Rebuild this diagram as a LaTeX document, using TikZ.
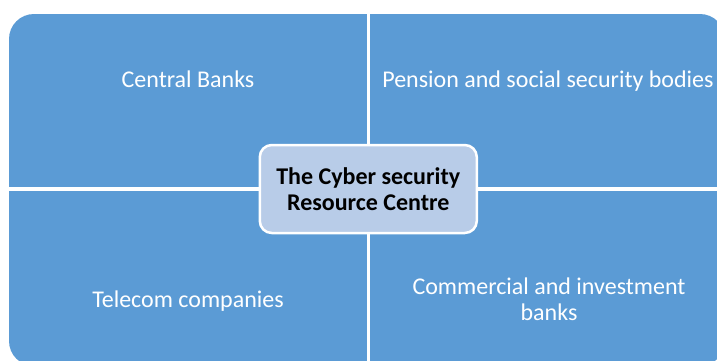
\documentclass[tikz,border=0pt]{standalone}
\usepackage{fontspec}
\setmainfont{Carlito}
\usepackage{xcolor}
\usepackage{tikz}
\usetikzlibrary{positioning, calc}
\definecolor{quadblue}{HTML}{5B9BD5}
\definecolor{hubblue}{HTML}{B8CCE8}

\begin{document}
\begin{tikzpicture}[x=1pt, y=-1pt]
        \tikzstyle{lbl} = [text=white, font=\fontsize{24}{26}\selectfont, align=center, anchor=base]
        \tikzstyle{hub} = [rectangle, rounded corners=12pt, draw=white, line width=2.5pt, fill=hubblue, minimum width=217pt, minimum height=88pt, text centered, align=center, font=\bfseries\fontsize{24}{26}\selectfont]
        \tikzstyle{divider} = [white, line width=3.5pt]
        \useasboundingbox (0,0) rectangle (717,360);

        % Four quadrants as one block, split by white lines
        \fill [quadblue, rounded corners=25pt] (9,14) rectangle (725,366);
        \coordinate (vtop) at (368.3,14); \coordinate (vbot) at (368.3,366);
        \coordinate (hleft) at (9,189); \coordinate (hright) at (725,189);
        \draw [divider] (vtop) -- (vbot); \draw [divider] (hleft) -- (hright);

        % Quadrant labels
        \node (cbanks) [lbl] at (188,87) {Central Banks};
        \node (pension) [lbl] at (548,87) {Pension and social security bodies};
        \node (telecom) [lbl] at (188,307) {Telecom companies};
        \node (commercial) [lbl] at (549,320) {Commercial and investment\\banks};

        % Centre box
        \node (centre) [hub] at (368.3,189) {The Cyber security\\Resource Centre};
    \end{tikzpicture}
\end{document}
